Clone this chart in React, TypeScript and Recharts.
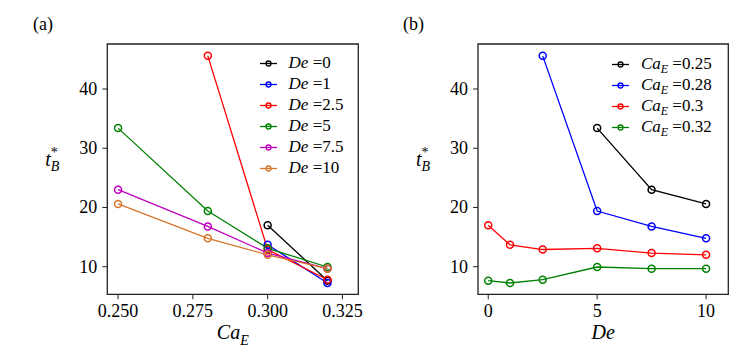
import { LineChart, Line, XAxis, YAxis, ReferenceArea, Legend, Label } from "recharts";

// Deborah numbers and electric capillary numbers
const DE = [0, 1, 2.5, 5, 7.5, 10];
const CA_E = [0.25, 0.28, 0.3, 0.32];

// breakup time t*_B for each Ca_E, indexed by DE (null = no point)
const tB_ca025 = [null, null, null, 33.4, 23.0, 20.6];
const tB_ca028 = [null, null, 45.6, 19.4, 16.8, 14.8];
const tB_ca030 = [17.0, 13.7, 12.9, 13.1, 12.3, 12.0];
const tB_ca032 = [7.64, 7.25, 7.8, 9.95, 9.66, 9.66];
const TB_ROWS = [tB_ca025, tB_ca028, tB_ca030, tB_ca032];

const DE_COLORS = ["#000000", "#0000ff", "#ff0000", "#008000", "#bf00bf", "#d9742b"];
const CA_COLORS = ["#000000", "#0000ff", "#ff0000", "#008000"];

const Y_TICKS = [10, 20, 30, 40];
const CA_TICKS = [0.25, 0.275, 0.3, 0.325];
const DE_TICKS = [0, 5, 10];

const Y_DOMAIN: [number, number] = [5.34, 47.6];
const CA_DOMAIN: [number, number] = [0.2464, 0.3303];
const DE_DOMAIN: [number, number] = [-0.47, 11.02];

const FONT = "Liberation Serif";
const FRAME = "#222";

type Pt = { x: number; y: number };
type Series = { name: string; color: string; data: Pt[] };

const leftSeries: Series[] = DE.map((de, j) => ({
  name: String(de),
  color: DE_COLORS[j],
  data: CA_E.map((ca, i) => ({ x: ca, y: TB_ROWS[i][j] }))
    .filter((p) => p.y !== null) as Pt[],
}));

const rightSeries: Series[] = CA_E.map((ca, i) => ({
  name: String(ca),
  color: CA_COLORS[i],
  data: DE.map((de, j) => ({ x: de, y: TB_ROWS[i][j] }))
    .filter((p) => p.y !== null) as Pt[],
}));

const Marker = ({ color }: { color: string }) => (
  <svg width={17} height={21} style={{ display: "block" }}>
    <line x1={0} y1={10.5} x2={17} y2={10.5} stroke={color} strokeWidth={1.3} />
    <circle cx={8.5} cy={10.5} r={2.5} fill="none" stroke={color} strokeWidth={1.3} />
  </svg>
);

const makeLegend = (series: Series[], param: "De" | "Ca") => () => (
  <div style={{ fontFamily: FONT, fontSize: 17, color: "#000" }}>
    {series.map((s) => (
      <div key={s.name} style={{ display: "flex", alignItems: "center", height: 21 }}>
        <Marker color={s.color} />
        <span style={{ marginLeft: 11.6, whiteSpace: "nowrap" }}>
          {param === "De" ? (
            <i>De</i>
          ) : (
            <>
              <i>Ca</i>
              <i style={{ fontSize: 12, position: "relative", top: 4 }}>E</i>
            </>
          )}
          {" =" + s.name}
        </span>
      </div>
    ))}
  </div>
);

// tick labels drawn by hand so the serif font sticks
const XTick = (fmt: (v: number) => string) => (props: any) => {
  const { x, y, payload } = props;
  return (
    <text x={x} y={y + 13} textAnchor="middle" style={{ fontFamily: FONT, fontSize: 18 }} fill="#000">
      {fmt(payload.value)}
    </text>
  );
};

const YTick = (props: any) => {
  const { x, y, payload } = props;
  return (
    <text x={x} y={y + 6} textAnchor="end" style={{ fontFamily: FONT, fontSize: 18 }} fill="#000">
      {payload.value}
    </text>
  );
};

const YLabel = (props: any) => {
  const { x } = props.viewBox;
  return (
    <text x={x - 17} y={166} style={{ fontFamily: FONT }} fill="#000">
      <tspan fontSize={20} fontStyle="italic">t</tspan>
      <tspan fontSize={14} dy={-9}>*</tspan>
      <tspan fontSize={14} fontStyle="italic" dx={-7} dy={14}>B</tspan>
    </text>
  );
};

const XLabel = (text: "De" | "Ca") => (props: any) => {
  const { x, y, width } = props.viewBox;
  const cx = x + width / 2;
  if (text === "De") {
    return (
      <text x={cx} y={y + 44.7} textAnchor="middle" style={{ fontFamily: FONT, fontSize: 20 }} fontStyle="italic" fill="#000">
        De
      </text>
    );
  }
  return (
    <text x={cx - 16} y={y + 44.7} style={{ fontFamily: FONT }} fill="#000" fontStyle="italic">
      <tspan fontSize={20}>Ca</tspan>
      <tspan fontSize={14} dy={6}>E</tspan>
    </text>
  );
};

interface PanelProps {
  series: Series[];
  xDomain: [number, number];
  xTicks: number[];
  xFormat: (v: number) => string;
  param: "De" | "Ca";
  margin: { top: number; right: number; bottom: number; left: number };
  legendPos: { left: number; top: number };
}

const Panel = ({ series, xDomain, xTicks, xFormat, param, margin, legendPos }: PanelProps) => (
  <LineChart width={378} height={360} margin={margin}>
    <XAxis
      type="number"
      dataKey="x"
      domain={xDomain}
      ticks={xTicks}
      allowDataOverflow
      axisLine={false}
      tickLine={{ stroke: FRAME }}
      tickSize={5}
      tickMargin={5}
      tick={XTick(xFormat)}
      height={30}
      interval={0}
    >
      <Label content={XLabel(param === "De" ? "Ca" : "De")} />
    </XAxis>
    <YAxis
      type="number"
      domain={Y_DOMAIN}
      ticks={Y_TICKS}
      allowDataOverflow
      axisLine={false}
      tickLine={{ stroke: FRAME }}
      tickSize={5}
      tickMargin={5}
      tick={YTick}
      width={45}
      interval={0}
    >
      <Label content={YLabel} />
    </YAxis>
    <ReferenceArea
      x1={xDomain[0]}
      x2={xDomain[1]}
      y1={Y_DOMAIN[0]}
      y2={Y_DOMAIN[1]}
      fill="none"
      stroke={FRAME}
      strokeWidth={1.3}
    />
    {series.map((s) => (
      <Line
        key={s.name}
        data={s.data}
        dataKey="y"
        name={s.name}
        stroke={s.color}
        strokeWidth={1.3}
        dot={{ r: 3.5, fill: "none", stroke: s.color, strokeWidth: 1.5 }}
        activeDot={false}
        isAnimationActive={false}
      />
    ))}
    <Legend
      layout="vertical"
      align="center"
      verticalAlign="middle"
      content={makeLegend(series, param)}
      wrapperStyle={{ left: legendPos.left, top: legendPos.top, width: 120, height: 130 }}
    />
  </LineChart>
);

const App = () => (
  <div style={{ position: "absolute", left: 0, top: 0, width: 756, height: 360, background: "#fff", fontFamily: FONT }}>
    <div style={{ position: "absolute", left: 33, top: 14, fontSize: 18 }}>(a)</div>
    <div style={{ position: "absolute", left: 403, top: 14, fontSize: 18 }}>(b)</div>
    <div style={{ position: "absolute", left: 0, top: 0 }}>
      <Panel
        series={leftSeries}
        xDomain={CA_DOMAIN}
        xTicks={CA_TICKS}
        xFormat={(v) => v.toFixed(3)}
        param="De"
        margin={{ top: 44, right: 19.7, bottom: 35.7, left: 62.3 }}
        legendPos={{ left: 260, top: 52.8 }}
      />
    </div>
    <div style={{ position: "absolute", left: 378, top: 0 }}>
      <Panel
        series={rightSeries}
        xDomain={DE_DOMAIN}
        xTicks={DE_TICKS}
        xFormat={(v) => String(v)}
        param="Ca"
        margin={{ top: 44, right: 27.7, bottom: 35.7, left: 55 }}
        legendPos={{ left: 234.3, top: 53.8 }}
      />
    </div>
  </div>
);

export default App;
